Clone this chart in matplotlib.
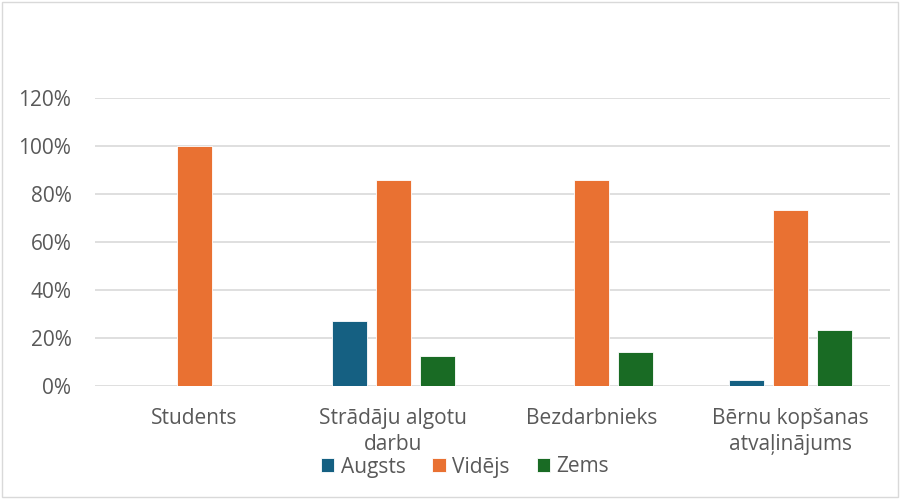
import matplotlib
matplotlib.use("Agg")
import matplotlib.pyplot as plt
import numpy as np
from matplotlib.patches import Rectangle
from matplotlib.ticker import PercentFormatter

categories = ["Students", "Strādāju algotu\ndarbu", "Bezdarbnieks", "Bērnu kopšanas\natvaļinājums"]
series = ["Augsts", "Vidējs", "Zems"]
augsts = [0, 27, 0, 2.5]
videjs = [100, 86, 86, 73.5]
zems = [0, 12.5, 14, 23.5]
colors = ["#156082", "#E97132", "#196B24"]

plt.rcParams["font.family"] = ["Open Sans", "DejaVu Sans"]
text_color = "#595959"
fs = 15

fig = plt.figure(figsize=(9, 4.99), dpi=100)
ax = fig.add_axes([95 / 900, 1 - 386 / 499, 795 / 900, 288 / 499])

x = np.arange(len(categories))
width = 0.176
step = 0.221
for i, (name, vals) in enumerate(zip(series, [augsts, videjs, zems])):
    ax.bar(x + (i - 1) * step, vals, width, color=colors[i], label=name,
           edgecolor="#ffffff", linewidth=0.6, zorder=3)

ax.set_xlim(-0.5, len(categories) - 0.5)
ax.set_ylim(0, 120)
ax.set_yticks(np.arange(0, 121, 20))
ax.yaxis.set_major_formatter(PercentFormatter(decimals=0))
ax.set_xticks(x)
ax.set_xticklabels(categories, fontsize=fs, color=text_color, linespacing=1.3)
ax.tick_params(axis="y", labelsize=fs, labelcolor=text_color, length=0, pad=17)
ax.tick_params(axis="x", length=0, pad=16)
ax.grid(axis="y", color="#d9d9d9", linewidth=1.2, zorder=0)
for s in ax.spines.values():
    s.set_visible(False)

leg = fig.legend(loc="center", bbox_to_anchor=(465 / 900, 1 - 467 / 499), ncol=3,
                 frameon=False, fontsize=fs, handlelength=0.65, handleheight=0.65,
                 handletextpad=0.3, columnspacing=1.3, labelcolor=text_color)

fig.patches.append(Rectangle((2 / 900, 2 / 499), 896 / 900, 495 / 499, transform=fig.transFigure,
                             fill=False, edgecolor="#d9d9d9", linewidth=1))

fig.savefig("out.png", dpi=100)
